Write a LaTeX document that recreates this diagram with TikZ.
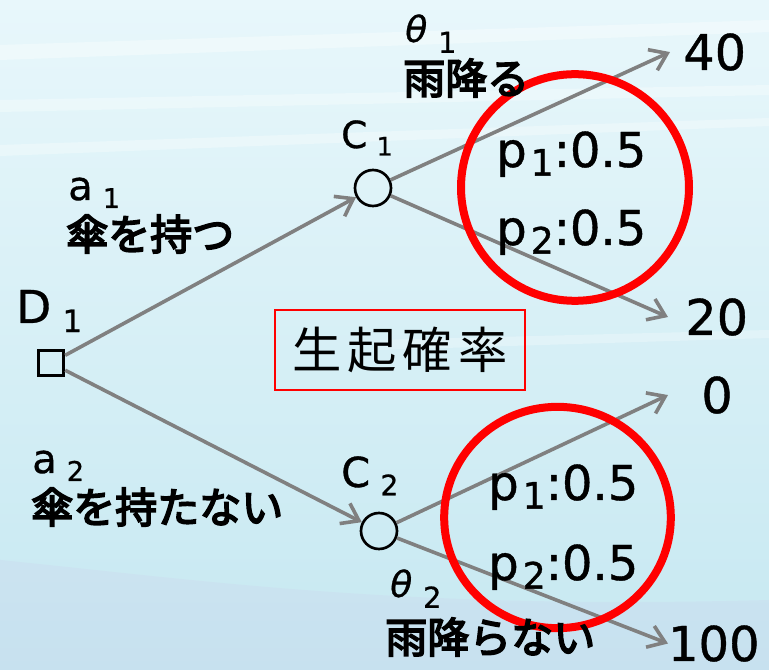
\documentclass[tikz,border=0pt]{standalone}
\usepackage{fontspec}
\usepackage{graphicx}
\setmainfont{DejaVu Sans}[FakeBold=0.8]
\newfontfamily\jpb{Noto Sans CJK JP}[FakeBold=4]
\newfontfamily\jpr{Noto Sans CJK JP}[LetterSpace=12]
\usetikzlibrary{arrows.meta}
\definecolor{bgtop}{RGB}{232,247,251}
\definecolor{bgbot}{RGB}{198,232,241}
\definecolor{arrgray}{RGB}{128,128,128}
\newcommand\lidx[1]{\hspace{0.25em}\raisebox{-0.2em}{\scalebox{0.68}{#1}}}
\newcommand\pidx[1]{\hspace{0.08em}\raisebox{-0.18em}{\scalebox{0.76}{#1}}}
\begin{document}
\begin{tikzpicture}[x=0.75pt,y=-0.75pt,
  conn/.style={draw=arrgray, line width=2.7pt, -{Straight Barb[length=12pt,width=17pt]}},
  chance/.style={circle, draw=black, line width=2pt, minimum size=27pt, inner sep=0pt},
  decision/.style={rectangle, draw=black, line width=2.25pt, minimum size=19pt, inner sep=0pt},
  outcome/.style={font=\fontsize{37}{40}\selectfont, inner sep=0pt, anchor=base west},
  latlbl/.style={inner sep=0pt, anchor=base west},
  jplbl/.style={font=\jpb\fontsize{31.5}{36}\selectfont, inner sep=0pt, anchor=west},
  problbl/.style={font=\fontsize{36}{40}\selectfont, inner sep=0pt, anchor=base west},
  ring/.style={draw=red, line width=6pt},
  probbox/.style={draw=red, line width=1.9pt, minimum width=187.5pt, minimum height=60pt, inner sep=0pt,
    font=\jpr\fontsize{37}{40}\selectfont}
]
\useasboundingbox (0,0) rectangle (769,670);
% background
\fill[top color=bgtop, bottom color=bgbot] (0,0) rectangle (769,670);
\fill[white, opacity=0.35] (0,45) -- (769,20) -- (769,32) -- (0,60) -- cycle;
\fill[white, opacity=0.3] (0,100) -- (769,85) -- (769,95) -- (0,112) -- cycle;
\fill[white, opacity=0.3] (0,145) -- (769,118) -- (769,126) -- (0,156) -- cycle;
\fill[white, opacity=0.25] (380,340) -- (769,330) -- (769,338) -- (380,350) -- cycle;
\fill[cyan!30!blue!20, opacity=0.25] (0,560) .. controls (200,580) and (400,610) .. (769,600) -- (769,670) -- (0,670) -- cycle;

% nodes
\node[decision] (d1) at (51,363) {};
\node[chance] (c1) at (373,188) {};
\node[chance] (c2) at (379,531) {};

\node[outcome, outer xsep=10pt] (o40) at (670,70) {40};
\node[outcome, outer xsep=13pt] (o20) at (668,335) {20};
\node[outcome, outer xsep=25pt] (o0) at (668,413) {0};
\node[outcome, font=\fontsize{36}{40}\selectfont, outer xsep=0pt] (o100) at (668,661) {100};

% connectors
\draw[conn] (d1) -- (c1);
\draw[conn] (d1) -- (c2);
\draw[conn] (c1) -- (o40.west);
\draw[conn] (c1) -- (o20.west);
\draw[conn] (c2) -- (o0.west);
\draw[conn] (c2) -- (o100.west);

% red rings
\draw[ring] (575,187.5) ellipse [x radius=85.5pt, y radius=85pt];
\draw[ring] (557.5,517.5) ellipse [x radius=85pt, y radius=83pt];

% probability box
\node[probbox] (prob) at (400,350) {生起確率};

% labels
\node[latlbl, font=\fontsize{34}{38}\selectfont] (d1l) at (16,323) {D\lidx{1}};
\node[latlbl, font=\fontsize{28}{32}\selectfont] (c1l) at (341,148) {C\lidx{1}};
\node[latlbl, font=\fontsize{31}{34}\selectfont] (c2l) at (341,487) {C\lidx{2}};
\node[latlbl, font=\fontsize{30}{34}\selectfont] (a1l) at (68,200) {a\lidx{1}};
\node[jplbl] (a1t) at (66,234) {傘を持つ};
\node[latlbl, font=\fontsize{30}{34}\selectfont] (a2l) at (32,473) {a\lidx{2}};
\node[jplbl] (a2t) at (31,507) {傘を持たない};
\node[latlbl, font=\fontsize{27}{30}\selectfont] (t1l) at (405,42) {\itshape θ\upshape\hspace{0.3em}\raisebox{-0.3em}{\scalebox{0.8}{1}}};
\node[jplbl] (t1t) at (403,78) {雨降る};
\node[latlbl, font=\fontsize{27}{30}\selectfont] (t2l) at (390,597) {\itshape θ\upshape\hspace{0.3em}\raisebox{-0.3em}{\scalebox{0.8}{2}}};
\node[jplbl] (t2t) at (385,637) {雨降らない};

\node[problbl] (p11) at (496,167) {p\pidx{1}:0.5};
\node[problbl] (p12) at (496,245) {p\pidx{2}:0.5};
\node[problbl] (p21) at (488,500) {p\pidx{1}:0.5};
\node[problbl] (p22) at (488,580) {p\pidx{2}:0.5};
\end{tikzpicture}
\end{document}
